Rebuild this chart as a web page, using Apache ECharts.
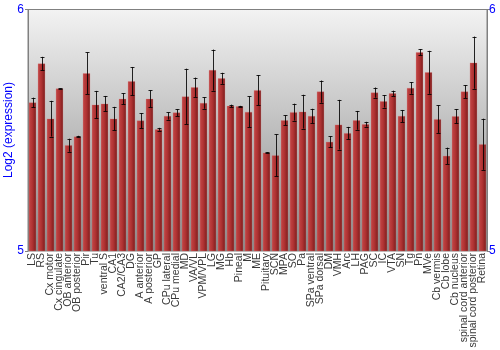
<!DOCTYPE html>
<html><head><meta charset="utf-8">
<script src="https://cdn.jsdelivr.net/npm/echarts@6/dist/echarts.min.js"></script>
<style>html,body{margin:0;padding:0;background:#fff}#c{width:500px;height:350px}</style>
</head><body><div id="c"></div>
<script>
const categories = ["LS","RS","Cx motor","Cx cingulate","OB anterior","OB posterior","Pir","Tu","ventral S","CA1","CA2/CA3","DG","A anterior","A posterior","GP","CPu lateral","CPu medial","MD","VA/VL","VPM/VPL","LG","MG","Hb","Pineal","M","ME","Pituitary","SCN","MPA","SO","Pa","SPa ventral","SPa dorsal","DM","VMH","Arc","LH","PAG","SC","IC","VTA","SN","Tg","Pn","MVe","Cb vermis","Cb lobe","Cb nucleus","spinal cord anterior","spinal cord posterior","Retina"];
const values = [5.615,5.776,5.548,5.673,5.438,5.474,5.736,5.606,5.610,5.548,5.630,5.703,5.540,5.630,5.504,5.559,5.573,5.640,5.678,5.613,5.749,5.715,5.601,5.599,5.576,5.666,5.407,5.396,5.541,5.575,5.577,5.559,5.660,5.452,5.523,5.488,5.541,5.525,5.656,5.620,5.653,5.559,5.675,5.823,5.740,5.546,5.394,5.558,5.660,5.780,5.442];
const errors = [0.020,0.028,0.074,0.001,0.027,0.003,0.086,0.057,0.032,0.049,0.023,0.059,0.031,0.035,0.006,0.015,0.014,0.115,0.040,0.024,0.085,0.023,0.005,0.002,0.064,0.062,0.002,0.087,0.021,0.035,0.070,0.030,0.046,0.023,0.103,0.026,0.039,0.010,0.021,0.026,0.011,0.025,0.024,0.013,0.089,0.057,0.034,0.030,0.027,0.108,0.106];
const yTicks = [5, 6];
const yName = 'Log2 (expression)';

const chart = echarts.init(document.getElementById('c'), null, {renderer:'canvas'});
const errData = values.map((v,i)=>[i, v-errors[i], v+errors[i]]);
const FF = 'Liberation Sans, Arial, sans-serif';
chart.setOption({
  animation:false,
  graphic:[{type:'text',x:9,y:130,rotation:Math.PI/2,
    style:{text:yName,fill:'#0000ff',font:'12px '+FF,align:'center',verticalAlign:'middle'}}],
  grid:{left:28,right:13,top:9.5,bottom:99,containLabel:false,outerBoundsMode:'none',show:true,borderColor:'#808080',borderWidth:1,
    backgroundColor:new echarts.graphic.LinearGradient(0,0,0,1,[{offset:0,color:'#f3f3f3'},{offset:1,color:'#888888'}])},
  xAxis:{type:'category',data:categories,
    axisLine:{show:false},axisTick:{show:false},
    axisLabel:{rotate:90,interval:0,fontSize:10.5,color:'#3a3a3a',fontFamily:FF,margin:2}},
  yAxis:[{type:'value',min:yTicks[0],max:yTicks[1],interval:1,
    axisLine:{show:true,lineStyle:{color:'#808080'}},axisTick:{show:true,length:3,lineStyle:{color:'#808080'}},
    splitLine:{show:false},
    axisLabel:{color:'#0000ff',fontSize:12,margin:4,fontFamily:FF}},
   {type:'value',min:yTicks[0],max:yTicks[1],interval:1,position:'right',
    axisLine:{show:true,lineStyle:{color:'#808080'}},axisTick:{show:true,length:3,lineStyle:{color:'#808080'}},
    splitLine:{show:false},
    axisLabel:{color:'#0000ff',fontSize:12,margin:2,fontFamily:FF}}],
  series:[{type:'bar',data:values,barCategoryGap:'18%',
    itemStyle:{color:new echarts.graphic.LinearGradient(0,0,1,0,[{offset:0,color:'#c24646'},{offset:0.45,color:'#b23434'},{offset:1,color:'#7c1c1c'}]),
      borderColor:'rgba(220,120,120,0.5)',borderWidth:0.5}},
   {type:'custom',data:errData,z:10,
    renderItem:function(params,api){
      const x=api.coord([api.value(0),api.value(1)]);
      const y2=api.coord([api.value(0),api.value(2)]);
      const cx=Math.round(x[0])+0.5;
      const st={stroke:'#000',lineWidth:1,opacity:0.85};
      return {type:'group',children:[
        {type:'line',shape:{x1:cx,y1:x[1],x2:cx,y2:y2[1]},style:st},
        {type:'line',shape:{x1:cx-2,y1:Math.round(x[1])+0.5,x2:cx+2,y2:Math.round(x[1])+0.5},style:st},
        {type:'line',shape:{x1:cx-2,y1:Math.round(y2[1])+0.5,x2:cx+2,y2:Math.round(y2[1])+0.5},style:st}
      ]};
    }}]
});
</script></body></html>
